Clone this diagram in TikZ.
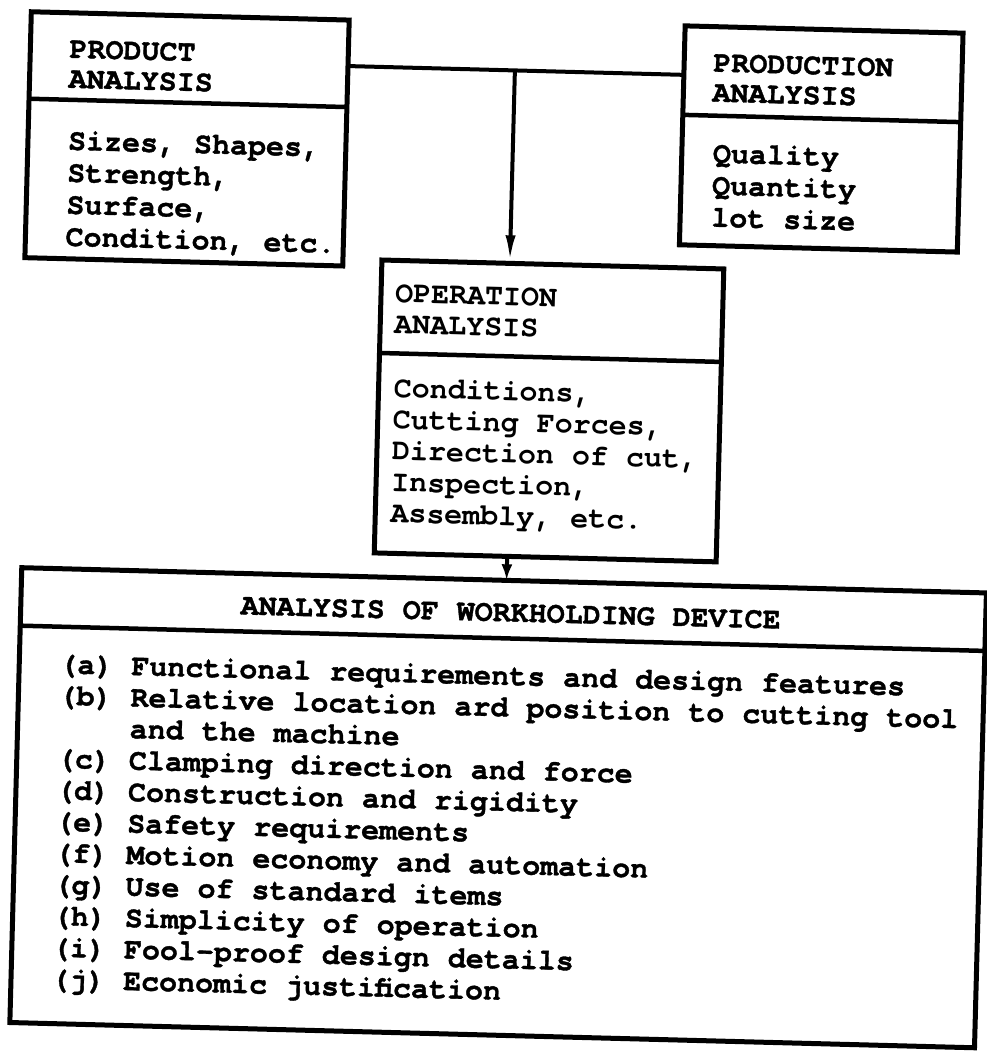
\documentclass[tikz,border=0pt]{standalone}
\usepackage{fontspec}
\newfontfamily\twfont{TeX Gyre Cursor}
\newfontfamily\twheavy[BoldFeatures={FakeBold=1.2}]{TeX Gyre Cursor}
\usetikzlibrary{arrows.meta}
\begin{document}
\begin{tikzpicture}[x=1pt,y=-1pt,
  boxnode/.style={draw, line width=5pt, inner sep=0pt, outer sep=0pt, anchor=north west},
  divline/.style={line width=4.5pt},
  conn/.style={line width=4pt},
  twb/.style={font=\twheavy\bfseries\fontsize{30}{30}\selectfont, inner sep=0pt, anchor=base west},
  twr/.style={font=\twfont\bfseries\fontsize{30}{30}\selectfont, inner sep=0pt, anchor=base west},
  longtip/.style={-{Latex[length=28pt,width=10pt]}},
  shorttip/.style={-{Latex[length=16pt,width=11pt]}}
]
\useasboundingbox[fill=white] (0,0) rectangle (987,1052);
\begin{scope}[rotate around={-1.5:(493,526)}, transform shape]
% boxes
\node[boxnode, minimum width=318pt, minimum height=246pt] (prod) at (18,24) {};
\node[boxnode, minimum width=278pt, minimum height=219pt] (prodn) at (672,21) {};
\node[boxnode, minimum width=342pt, minimum height=293pt] (oper) at (375,263) {};
\node[boxnode, minimum width=965pt, minimum height=455pt] (work) at (23,580) {};
% dividers
\draw[divline] (18,111) -- (336,111);
\draw[divline] (672,110) -- (950,110);
\draw[divline] (375,356) -- (717,356);
\draw[divline] (23,638) -- (988,638);
% headers
\node[twb] (ph1) at (57,69) {PRODUCT};
\node[twb] (ph2) at (57,99) {ANALYSIS};
\node[twb] (qh1) at (701,66) {PRODUCTION};
\node[twb] (qh2) at (701,96) {ANALYSIS};
\node[twr] (oh1) at (389,305) {OPERATION};
\node[twr] (oh2) at (389,336) {ANALYSIS};
\node[twb, anchor=base] (wh) at (513,621) {ANALYSIS OF WORKHOLDING DEVICE};
% bodies
\foreach \t [count=\i from 0] in {{Sizes, Shapes,},{Strength,},{Surface,},{Condition, etc.}}
  \node[twb] (pb\i) at (58,161+32*\i) {\t};
\foreach \t [count=\i from 0] in {{Quality},{Quantity},{lot size}}
  \node[twb] (qb\i) at (703,157+32*\i) {\t};
\foreach \t [count=\i from 0] in {{Conditions,},{Cutting Forces,},{Direction of cut,},{Inspection,},{Assembly, etc.}}
  \node[twr] (ob\i) at (390,400+31.3*\i) {\t};
\foreach \t [count=\i from 0] in {
  {(a) Functional requirements and design features},
  {(b) Relative location ard position to cutting tool},
  {\phantom{(b)} and the machine},
  {(c) Clamping direction and force},
  {(d) Construction and rigidity},
  {(e) Safety requirements},
  {(f) Motion economy and automation},
  {(g) Use of standard items},
  {(h) Simplicity of operation},
  {(i) Fool-proof design details},
  {(j) Economic justification}}
  \node[twb] (wl\i) at (63,684.5+31.5*\i) {\t};
% connectors
\coordinate (j) at (503,70);
\coordinate (k) at (508,560);
\draw[conn] (prod.east |- j) -- (prodn.west |- j);
\draw[conn, longtip] (j) -- (oper.north -| j);
\draw[conn, shorttip] (oper.south -| k) -- (work.north -| k);
\end{scope}
\end{tikzpicture}
\end{document}
